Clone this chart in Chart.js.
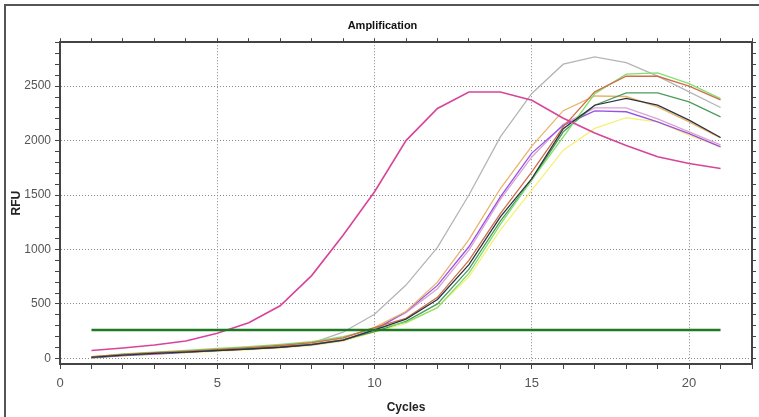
<!DOCTYPE html>
<html>
<head>
<meta charset="utf-8">
<title>Amplification</title>
<script src="https://cdn.jsdelivr.net/npm/chart.js@4.4.1/dist/chart.umd.min.js"></script>
<style>
    body { margin: 0; background: #fff; }
    canvas { display: block; }
</style>
</head>
<body>
<canvas id="grafico" width="759" height="417"></canvas>
<script>
// ciclos y valores RFU
var ciclos = [1, 2, 3, 4, 5, 6, 7, 8, 9, 10, 11, 12, 13, 14, 15, 16, 17, 18, 19, 20, 21];
var umbralCiclos = [1, 21];
var umbral = [260, 260];

var rosa = [72, 95, 122, 160, 230, 327, 483, 760, 1130, 1530, 2000, 2295, 2447, 2447, 2371, 2205, 2070, 1955, 1851, 1790, 1744];
var gris = [10, 28, 42, 56, 72, 88, 108, 140, 240, 405, 673, 1019, 1500, 2034, 2433, 2702, 2769, 2717, 2592, 2447, 2304];
var canela = [14, 34, 50, 64, 80, 96, 116, 142, 185, 285, 430, 700, 1090, 1560, 1950, 2275, 2410, 2405, 2310, 2172, 2025];
var morado = [5, 24, 40, 54, 70, 84, 100, 124, 165, 262, 428, 670, 1025, 1484, 1885, 2140, 2273, 2265, 2172, 2065, 1943];
var malva = [10, 28, 44, 58, 73, 88, 104, 128, 170, 268, 420, 640, 994, 1460, 1850, 2150, 2300, 2300, 2200, 2080, 1960];
var negro = [8, 30, 45, 58, 72, 86, 102, 126, 168, 262, 360, 540, 860, 1300, 1650, 2110, 2325, 2387, 2325, 2188, 2029];
var rojo = [15, 36, 52, 66, 82, 98, 118, 144, 188, 282, 368, 560, 900, 1330, 1713, 2126, 2448, 2591, 2591, 2500, 2375];
var verdeClaro = [12, 40, 58, 74, 92, 108, 128, 154, 200, 268, 330, 465, 780, 1230, 1640, 2034, 2430, 2610, 2622, 2524, 2385];
var verdeOscuro = [6, 30, 46, 60, 74, 88, 104, 128, 170, 245, 340, 500, 820, 1260, 1640, 2081, 2325, 2438, 2438, 2356, 2218];
var amarillo = [3, 22, 36, 50, 64, 78, 94, 118, 158, 240, 320, 470, 749, 1180, 1545, 1912, 2112, 2210, 2172, 2050, 1943];

var fuente = "'Liberation Sans', Arial, sans-serif";

function serie(valores, xs) {
    xs = xs || ciclos;
    return valores.map(function (v, i) {
        return {x: xs[i], y: v};
    });
}

function curva(valores, color, ancho) {
    return {
        data: serie(valores),
        borderColor: color,
        borderWidth: ancho || 1.3,
        pointRadius: 0,
        tension: 0,
        fill: false
    };
}

// marco exterior (izquierda y arriba)
var marco = {
    id: 'marco',
    beforeDraw: function (chart) {
        var c = chart.ctx;
        c.save();
        c.fillStyle = '#fff';
        c.fillRect(0, 0, chart.width, chart.height);
        c.strokeStyle = '#555';
        c.lineWidth = 2;
        c.beginPath();
        c.moveTo(5, chart.height);
        c.lineTo(5, 5);
        c.lineTo(chart.width, 5);
        c.stroke();
        c.restore();
    }
};

var colorGrid = function (paso) {
    return function (ctx) {
        return ctx.tick && ctx.tick.value % paso === 0 ? '#8a8a8a' : 'rgba(0,0,0,0)';
    };
};

var ctx = document.getElementById('grafico').getContext('2d');
new Chart(ctx, {
    type: 'line',
    data: {
        datasets: [
            {
                data: serie(umbral, umbralCiclos),
                borderColor: '#1d7a22',
                borderWidth: 2.5,
                pointRadius: 0,
                fill: false
            },
            curva(rosa, '#d8449a', 1.6),
            curva(negro, '#2c3440'),
            curva(rojo, '#cf6e48'),
            curva(verdeClaro, '#80e070'),
            curva(verdeOscuro, '#4d9a5b'),
            curva(canela, '#e9b46a'),
            curva(morado, '#9a52e6'),
            curva(malva, '#d9a3d2'),
            curva(amarillo, '#f6f07a'),
            curva(gris, '#b5b5b5')
        ]
    },
    options: {
        responsive: false,
        animation: false,
        layout: {
            padding: {left: 6, top: 0, right: 0, bottom: 0}
        },
        plugins: {
            legend: {display: false},
            tooltip: {enabled: false},
            title: {
                display: true,
                text: 'Amplification',
                color: '#111',
                font: {family: fuente, size: 11, weight: 'bold'},
                padding: {top: 19, bottom: 6}
            }
        },
        scales: {
            x: {
                type: 'linear',
                position: 'bottom',
                min: 0,
                max: 22,
                ticks: {
                    stepSize: 1,
                    autoSkip: false,
                    maxRotation: 0,
                    color: '#555',
                    padding: 7,
                    font: {family: fuente, size: 13},
                    callback: function (v) {
                        return v % 5 === 0 ? v : '';
                    }
                },
                grid: {
                    color: colorGrid(5),
                    tickColor: '#444',
                    tickLength: 5,
                    lineWidth: 1
                },
                border: {color: '#444', width: 2, dash: [1, 2]},
                title: {
                    display: true,
                    text: 'Cycles',
                    color: '#222',
                    font: {family: fuente, size: 12, weight: 'bold'},
                    padding: {top: 0, bottom: 2}
                },
                afterFit: function (s) {
                    s.height = 53;
                }
            },
            x2: {
                type: 'linear',
                position: 'top',
                min: 0,
                max: 22,
                ticks: {stepSize: 1, autoSkip: false, display: false},
                grid: {drawOnChartArea: false, tickColor: '#444', tickLength: 4},
                border: {color: '#444', width: 2},
                afterFit: function (s) {
                    s.height = 4;
                }
            },
            y: {
                type: 'linear',
                min: -52,
                max: 2904,
                ticks: {
                    stepSize: 100,
                    includeBounds: false,
                    autoSkip: false,
                    color: '#555',
                    padding: 4,
                    font: {family: fuente, size: 12},
                    callback: function (v) {
                        return v % 500 === 0 ? v : '';
                    }
                },
                grid: {
                    color: colorGrid(500),
                    tickColor: '#444',
                    tickLength: 5,
                    lineWidth: 1
                },
                border: {color: '#444', width: 2, dash: [1, 2]},
                title: {
                    display: true,
                    text: 'RFU',
                    color: '#222',
                    font: {family: fuente, size: 12, weight: 'bold'},
                    padding: {top: 3, bottom: 0}
                },
                afterFit: function (s) {
                    s.width = 54;
                }
            },
            y2: {
                type: 'linear',
                position: 'right',
                min: -52,
                max: 2904,
                ticks: {stepSize: 100, includeBounds: false, autoSkip: false, display: false},
                grid: {drawOnChartArea: false, tickColor: '#444', tickLength: 4},
                border: {color: '#444', width: 2},
                afterFit: function (s) {
                    s.width = 4;
                }
            }
        }
    },
    plugins: [marco]
});
</script>
</body>
</html>
